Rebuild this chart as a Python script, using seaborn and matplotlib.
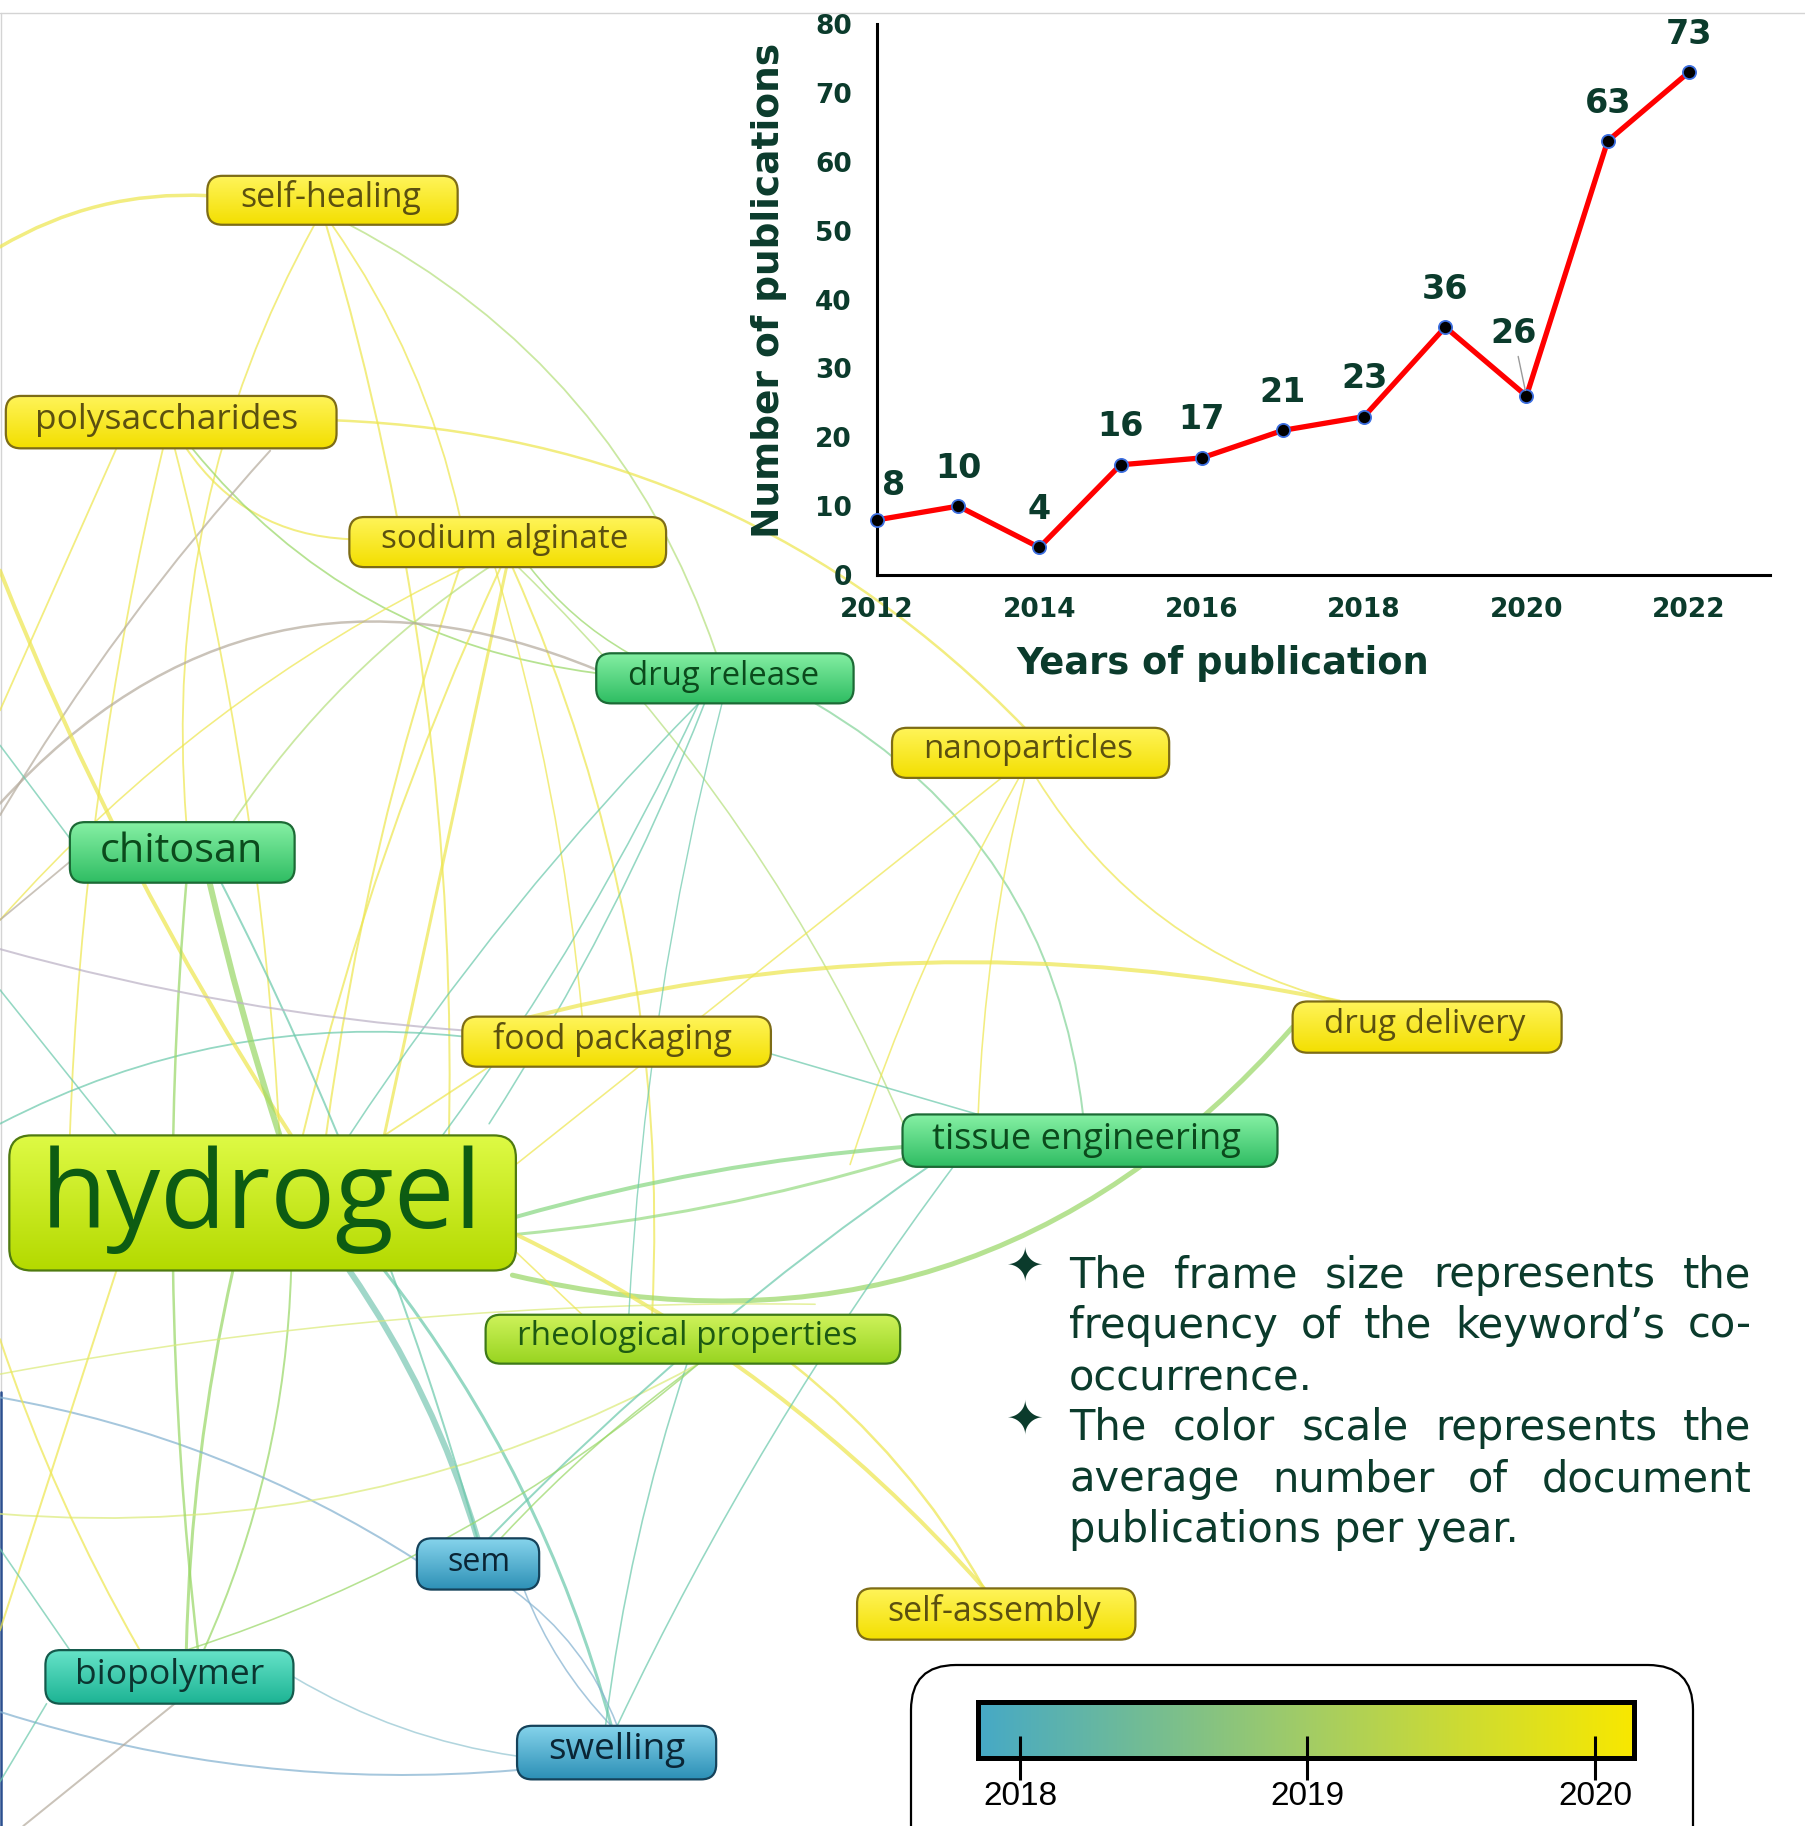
import matplotlib
matplotlib.use("Agg")
import numpy as np
import pandas as pd
import matplotlib.pyplot as plt
import seaborn as sns
from matplotlib.patches import FancyBboxPatch, PathPatch
from matplotlib.path import Path
from matplotlib.colors import LinearSegmentedColormap, to_rgb
from matplotlib import font_manager as fm

# ---------------- data ----------------
years = [2012, 2013, 2014, 2015, 2016, 2017, 2018, 2019, 2020, 2021, 2022]
publications = [8, 10, 4, 16, 17, 21, 23, 36, 26, 63, 73]
x_ticks = [2012, 2014, 2016, 2018, 2020, 2022]
y_ticks = [0, 10, 20, 30, 40, 50, 60, 70, 80]
x_label = "Years of publication"
y_label = "Number of publications"

keywords = ["self-healing", "polysaccharides", "sodium alginate", "drug release",
            "nanoparticles", "chitosan", "food packaging", "drug delivery",
            "tissue engineering", "hydrogel", "rheological properties",
            "self-assembly", "sem", "biopolymer", "swelling"]
keyword_class = ["yellow", "yellow", "yellow", "green", "yellow", "green", "yellow",
                 "yellow", "green", "lime", "lime2", "yellow", "blue", "teal", "blue"]

colorbar_years = [2018, 2019, 2020]
note_paragraphs = [
    ["The frame size represents the", "frequency of the keyword\u2019s co-", "occurrence."],
    ["The color scale represents the", "average number of document", "publications per year."],
]

# ---------------- layout / style ----------------
W, H = 1805, 1826
S = W / 1550.0
DG = "#0b3b2c"

sns.set_style("white")
plt.rcParams["font.family"] = ["DejaVu Sans"]

names = {f.name for f in fm.fontManager.ttflist}
NARROW = "Liberation Sans Narrow" if "Liberation Sans Narrow" in names else "Liberation Sans"

fig = plt.figure(figsize=(W / 100, H / 100), dpi=100)
ax_bg = fig.add_axes([0, 0, 1, 1])
ax_bg.set_xlim(0, W)
ax_bg.set_ylim(H, 0)
ax_bg.axis("off")

# node boxes (display coords: x0, y0, x1, y1), text centre, text width
node_layout = {
    "self-healing": ((178, 151, 393, 193), (284, 170), 156),
    "polysaccharides": ((5, 340, 289, 385), (143, 361), 225),
    "sodium alginate": ((300, 444, 572, 487), (433, 463), 212),
    "drug release": ((512, 561, 733, 604), (621, 581), 164),
    "nanoparticles": ((766, 625, 1004, 668), (883, 644), 179),
    "chitosan": ((60, 706, 253, 758), (156, 731), 140),
    "food packaging": ((397, 873, 662, 916), (526, 893), 205),
    "drug delivery": ((1110, 860, 1341, 904), (1223, 880), 172),
    "tissue engineering": ((775, 957, 1097, 1002), (933, 979), 264),
    "hydrogel": ((8, 975, 443, 1091), (225, 1030), 378),
    "rheological properties": ((417, 1129, 773, 1171), (590, 1148), 292),
    "self-assembly": ((736, 1364, 975, 1408), (854, 1384), 183),
    "sem": ((358, 1321, 463, 1365), (411, 1342), 54),
    "biopolymer": ((39, 1417, 252, 1463), (146, 1438), 162),
    "swelling": ((444, 1482, 615, 1528), (530, 1503), 118),
}
node_styles = {
    "yellow": ("#fff45a", "#f3df00", "#7d6c16", "#5b5010"),
    "green": ("#86f0a4", "#2fbd63", "#1c6a35", "#0b4a1c"),
    "lime": ("#defa45", "#b4da00", "#4f7a10", "#0d5c12"),
    "lime2": ("#cdf25a", "#98d420", "#3e7a18", "#1d5a12"),
    "blue": ("#86d4ec", "#2d90b6", "#15425a", "#0a2535"),
    "teal": ("#66e3c8", "#1cb394", "#145a4c", "#0b3530"),
}

Y = "#eee650"; LY = "#dceb7a"; G = "#9ad868"; LG = "#b6e07e"
T = "#6cc9ac"; B = "#84b2d0"; GR = "#b6ac9e"; GP = "#bcb2c6"
edges = [
    (178, 168, 0, 212, 0.15, Y, 3.5),
    (270, 193, 160, 706, 0.15, Y, 1.8),
    (285, 193, 395, 444, -0.1, Y, 1.8),
    (300, 193, 615, 561, -0.2, LG, 1.8),
    (280, 193, 385, 1000, -0.08, Y, 2.0),
    (160, 385, 300, 463, 0.25, Y, 2.0),
    (165, 385, 512, 578, 0.2, G, 1.8),
    (289, 361, 880, 625, -0.2, Y, 2.5),
    (140, 385, 60, 975, 0.05, Y, 1.8),
    (232, 387, 0, 700, 0.05, GR, 2.0),
    (150, 385, 240, 975, -0.05, Y, 1.8),
    (100, 385, 0, 610, 0.0, Y, 1.8),
    (430, 487, 260, 975, 0.05, Y, 2.0),
    (435, 487, 330, 975, 0.0, Y, 3.0),
    (395, 487, 280, 975, 0.05, Y, 2.0),
    (440, 487, 560, 1129, -0.12, Y, 2.0),
    (445, 487, 780, 975, -0.1, LG, 1.6),
    (420, 487, 200, 706, 0.1, LG, 1.8),
    (455, 487, 540, 561, 0.1, G, 1.6),
    (425, 487, 500, 873, -0.05, Y, 1.6),
    (400, 487, 0, 790, 0.1, Y, 1.6),
    (0, 690, 512, 575, -0.35, GR, 2.5),
    (600, 604, 300, 975, 0.05, T, 1.6),
    (605, 604, 420, 965, -0.05, T, 1.6),
    (700, 604, 930, 957, -0.25, "#86d49a", 2.0),
    (880, 668, 840, 957, 0.05, Y, 1.6),
    (890, 668, 1150, 860, 0.2, Y, 1.8),
    (875, 668, 730, 1000, 0.05, Y, 1.6),
    (860, 668, 443, 1000, 0.0, Y, 1.6),
    (430, 880, 1150, 860, -0.12, Y, 4.0),
    (1110, 882, 440, 1095, -0.3, G, 5.0),
    (775, 985, 443, 1045, 0.05, "#88d882", 4.0),
    (775, 995, 443, 1060, -0.05, "#98dc84", 3.0),
    (662, 905, 850, 960, 0.0, T, 1.6),
    (0, 965, 397, 890, -0.15, T, 1.8),
    (300, 1091, 410, 1321, -0.08, "#7cc8b4", 6.0),
    (330, 1091, 525, 1482, -0.1, T, 3.0),
    (200, 1091, 160, 1417, 0.05, G, 3.0),
    (250, 1091, 175, 1417, -0.1, G, 2.0),
    (450, 1365, 525, 1482, 0.1, B, 1.6),
    (440, 1365, 530, 1482, -0.15, B, 1.6),
    (252, 1440, 444, 1508, 0.1, "#94c6d2", 1.6),
    (0, 1200, 358, 1340, -0.1, B, 2.0),
    (0, 1470, 444, 1520, 0.1, B, 2.0),
    (680, 1171, 845, 1364, -0.1, Y, 2.5),
    (600, 1171, 430, 1321, 0.05, G, 1.6),
    (590, 1171, 520, 1482, 0.05, T, 1.6),
    (0, 1300, 600, 1171, 0.15, LY, 1.8),
    (0, 490, 250, 975, 0.05, Y, 4.0),
    (180, 758, 240, 975, 0.02, G, 6.0),
    (60, 740, 0, 790, 0.0, GR, 1.8),
    (60, 720, 0, 640, 0.0, T, 1.6),
    (160, 758, 170, 1417, 0.05, G, 2.5),
    (190, 758, 410, 1321, -0.05, T, 2.0),
    (0, 815, 400, 885, 0.05, GP, 2.0),
    (150, 1463, 20, 1568, 0.0, GR, 2.0),
    (100, 1091, 0, 1400, 0.0, Y, 2.0),
    (443, 1060, 845, 1364, -0.1, Y, 4.0),
    (420, 1321, 800, 1000, -0.05, T, 2.0),
    (530, 1482, 820, 1000, -0.05, T, 1.6),
    (0, 1180, 700, 1120, -0.05, LY, 1.6),
    (160, 1417, 600, 1171, 0.1, G, 1.6),
    (420, 916, 330, 975, 0.0, Y, 1.8),
    (0, 850, 100, 975, 0.0, T, 1.6),
    (380, 975, 600, 604, 0.05, T, 1.6),
    (620, 604, 540, 1129, 0.05, T, 1.4),
    (443, 1075, 500, 1129, 0.0, Y, 1.6),
    (40, 1463, 0, 1530, 0.0, T, 1.6),
    (60, 1417, 0, 1330, 0.0, T, 1.6),
    (120, 1417, 0, 1150, -0.05, Y, 2.0),
]


def draw_edge(x0, y0, x1, y1, bend, color, lw):
    x0, y0, x1, y1 = x0 * S, y0 * S, x1 * S, y1 * S
    dx, dy = x1 - x0, y1 - y0
    cx, cy = (x0 + x1) / 2 - bend * dy, (y0 + y1) / 2 + bend * dx
    path = Path([(x0, y0), (cx, cy), (x1, y1)], [Path.MOVETO, Path.CURVE3, Path.CURVE3])
    ax_bg.add_patch(PathPatch(path, fc="none", ec=color, lw=lw * 0.72, alpha=0.72,
                              zorder=1, capstyle="round"))


for e in edges:
    draw_edge(*e)

fits = []
for label, cls in zip(keywords, keyword_class):
    box, tc, tw = node_layout[label]
    top, bot, edge, txt = node_styles[cls]
    x0, y0, x1, y1 = [v * S for v in box]
    r = 22 if label == "hydrogel" else 15
    patch = FancyBboxPatch((x0, y0), x1 - x0, y1 - y0,
                           boxstyle=f"round,pad=0,rounding_size={r}",
                           fc="none", ec=edge, lw=1.6, zorder=4)
    ax_bg.add_patch(patch)
    t0, t1 = np.array(to_rgb(top)), np.array(to_rgb(bot))
    grad = (np.linspace(0, 1, 64)[:, None, None] * (t1 - t0) + t0)
    im = ax_bg.imshow(grad, extent=(x0, x1, y1, y0), origin="upper", aspect="auto",
                      zorder=3, interpolation="bilinear")
    im.set_clip_path(patch)
    t = ax_bg.text(tc[0] * S, tc[1] * S, label, ha="center", va="center", fontsize=20,
                   family="Open Sans", color=txt, zorder=5)
    fits.append((t, tw * S))

renderer = fig.canvas.get_renderer()
for t, target in fits:
    w = t.get_window_extent(renderer=renderer).width
    t.set_fontsize(t.get_fontsize() * target / w)

# frame lines of the original picture
ax_bg.plot([0, W], [13, 13], color="#d4d4d4", lw=1, zorder=0)
ax_bg.plot([1, 1], [13, 1392], color="#d4d4d4", lw=1, zorder=0)
ax_bg.plot([1, 1], [1392, H], color="#2b4f8f", lw=1.8, zorder=0)

# ---------------- notes (justified) ----------------
fs_note = 30
xl, xr = 918 * S, 1504 * S
baselines = [1287, 1338, 1389, 1440, 1491, 1542]
li = 0
for para in note_paragraphs:
    ax_bg.text(880 * S, baselines[li] - 18, "\u2726", fontsize=33, ha="center",
               va="center", color=DG, zorder=6)
    for k, line in enumerate(para):
        yb = baselines[li]
        if k == len(para) - 1:
            ax_bg.text(xl, yb, line, fontsize=fs_note, ha="left", va="baseline",
                       color=DG, zorder=6)
        else:
            words = line.split(" ")
            objs = [ax_bg.text(0, yb, wd, fontsize=fs_note, ha="left", va="baseline",
                               color=DG, zorder=6) for wd in words]
            widths = [o.get_window_extent(renderer=renderer).width for o in objs]
            gap = (xr - xl - sum(widths)) / (len(words) - 1)
            x = xl
            for o, wdt in zip(objs, widths):
                o.set_x(x)
                x += wdt + gap
        li += 1

# ---------------- colour scale legend ----------------
ax_bg.add_patch(FancyBboxPatch((911, 1665), 782, 260,
                               boxstyle="round,pad=0,rounding_size=45",
                               fc="white", ec="black", lw=1.6, zorder=6))
cax = fig.add_axes([978 / W, 1 - 1758 / H, (1634 - 978) / W, (1758 - 1702) / H])
cmap = LinearSegmentedColormap.from_list(
    "vos", ["#46a9c6", "#72bc95", "#a2cc66", "#cfdc30", "#f8e800"])
lo, hi = 2017.854, 2020.136
cax.imshow(np.linspace(0, 1, 256)[None, :], extent=(lo, hi, 0, 1), aspect="auto",
           cmap=cmap)
cax.set_xlim(lo, hi)
cax.set_ylim(0, 1)
cax.set_yticks([])
cax.set_xticks(colorbar_years)
cax.set_xticklabels([str(v) for v in colorbar_years])
for s in cax.spines.values():
    s.set_linewidth(3.6)
    s.set_color("black")
cb_fs = 29 if NARROW == "Liberation Sans Narrow" else 24
cax.tick_params(axis="x", bottom=True, direction="inout", length=31, width=2.2, pad=1,
                labelsize=cb_fs, colors="black")
for lbl in cax.get_xticklabels():
    lbl.set_fontfamily(NARROW)

# ---------------- line chart ----------------
ax = fig.add_axes([877 / W, 1 - 575 / H, (1770 - 877) / W, (575 - 24) / H])
ax.patch.set_alpha(0)
df = pd.DataFrame({"Year": years, "Publications": publications})
sns.lineplot(data=df, x="Year", y="Publications", ax=ax, color="#ff0000", lw=3.8,
             marker="o", markersize=9.5, markerfacecolor="black",
             markeredgecolor="#3d6fe0", markeredgewidth=1.3, clip_on=False, zorder=3)
ax.set_xlim(2012, 2023)
ax.set_ylim(0, 80)
ax.set_xticks(x_ticks)
ax.set_yticks(y_ticks)
ax.grid(False)
for side in ["top", "right"]:
    ax.spines[side].set_visible(False)
for side in ["left", "bottom"]:
    ax.spines[side].set_linewidth(2.2)
    ax.spines[side].set_color("black")
ax.tick_params(axis="both", length=0, labelsize=19, labelcolor=DG)
ax.tick_params(axis="x", pad=16)
ax.tick_params(axis="y", pad=18)
for lbl in ax.get_xticklabels() + ax.get_yticklabels():
    lbl.set_fontweight("bold")
ax.set_xlabel(x_label, fontsize=26.5, fontweight="bold", color=DG)
ax.set_ylabel(y_label, fontsize=27, fontweight="bold", color=DG)
ax.xaxis.label.set_va("center")
ax.yaxis.label.set_va("center")
ax.xaxis.set_label_coords(0.3875, -0.160)
ax.yaxis.set_label_coords(-0.121, 0.517)

offsets = {2012: (17, 34), 2020: (-13, 62)}
for xv, yv in zip(years, publications):
    dx, dy = offsets.get(xv, (0, 38))
    kw = {}
    if xv == 2020:
        kw["arrowprops"] = dict(arrowstyle="-", color="#9a9a9a", lw=1.0,
                                shrinkA=2, shrinkB=4)
    ax.annotate(str(yv), (xv, yv), xytext=(dx, dy), textcoords="offset pixels",
                ha="center", va="center", fontsize=24, fontweight="bold", color=DG,
                annotation_clip=False, **kw)

fig.savefig("out.png", dpi=100)
